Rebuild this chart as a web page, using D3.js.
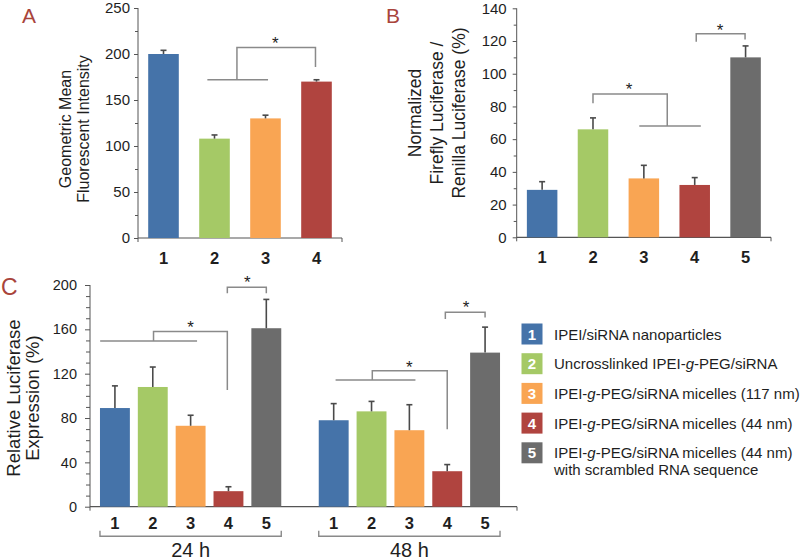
<!DOCTYPE html>
<html><head><meta charset="utf-8">
<script src="https://cdn.jsdelivr.net/npm/d3@7"></script>
<style>
body{margin:0;background:#fff}
text{font-family:"Liberation Sans",Arial,Helvetica,sans-serif;fill:#1e1e1e}
</style>
</head><body>
<svg id="c" width="800" height="559"></svg>
<script>
// ---------- data ----------
const colors = ["#4573a9", "#a5c966", "#f9a553", "#b0443f", "#6c6c6c"];
const catsA = ["1", "2", "3", "4"];
const valuesA = [200, 108, 130, 170];
const errA = [4, 4, 3.5, 2];
const ticksA = [0, 50, 100, 150, 200, 250];

const catsB = ["1", "2", "3", "4", "5"];
const valuesB = [29, 66, 36, 32, 110];
const errB = [5, 7, 8, 4.5, 7];
const ticksB = [0, 20, 40, 60, 80, 100, 120, 140];

const groupsC = ["24 h", "48 h"];
const catsC = ["1", "2", "3", "4", "5"];
const values24 = [89, 108, 73, 14, 161];
const err24 = [20, 18, 9.5, 4, 26];
const values48 = [78, 86, 69, 32, 139];
const err48 = [15, 9, 23, 6, 23];
const ticksC = [0, 40, 80, 120, 160, 200];

const legendLabels = [
  ["IPEI/siRNA nanoparticles"],
  ["Uncrosslinked IPEI-g-PEG/siRNA"],
  ["IPEI-g-PEG/siRNA micelles (117 nm)"],
  ["IPEI-g-PEG/siRNA micelles (44 nm)"],
  ["IPEI-g-PEG/siRNA micelles (44 nm)", "with scrambled RNA sequence"]
];

// ---------- helpers ----------
const svg = d3.select("#c");
const letterColor = "#a9443b";
const axisColor = "#555";
const bracketColor = "#8a8a8a";

function drawYAxis(x0, y, ticks, minorStep, tickSize, pad, fs) {
  const [d0, d1] = y.domain();
  const minor = d3.range(d0, d1 + 1e-9, minorStep).filter(v => !ticks.includes(v));
  const gm = svg.append("g").attr("transform", `translate(${x0},0)`)
    .call(d3.axisLeft(y).tickValues(minor).tickSize(tickSize - 1).tickFormat(""));
  gm.select(".domain").remove();
  gm.selectAll("line").attr("stroke", axisColor);
  const g = svg.append("g").attr("transform", `translate(${x0},0)`)
    .call(d3.axisLeft(y).tickValues(ticks).tickSize(tickSize).tickPadding(pad).tickSizeOuter(0));
  g.select(".domain").attr("stroke", axisColor)
    .attr("d", `M0,${y(d1)}V${y(d0) + 4}`);
  g.selectAll("line").attr("stroke", axisColor);
  g.selectAll("text").attr("font-size", fs).attr("fill", "#1e1e1e")
    .attr("font-family", '"Liberation Sans",Arial,sans-serif');
}

function drawXBase(x0, x1, y0) {
  svg.append("line").attr("x1", x0).attr("x2", x1).attr("y1", y0).attr("y2", y0)
    .attr("stroke", axisColor).attr("stroke-width", 1.2);
  svg.append("line").attr("x1", x1).attr("x2", x1).attr("y1", y0).attr("y2", y0 + 4)
    .attr("stroke", axisColor);
}

function drawBars(xPos, bw, y, values, errs, labelY, fs) {
  values.forEach((v, i) => {
    const x = xPos(i);
    svg.append("rect").attr("x", x).attr("y", y(v)).attr("width", bw)
      .attr("height", y(0) - y(v)).attr("fill", colors[i]);
    const cx = x + bw / 2;
    svg.append("line").attr("x1", cx).attr("x2", cx).attr("y1", y(v)).attr("y2", y(v + errs[i]))
      .attr("stroke", "#4a4a4a").attr("stroke-width", 1.6);
    svg.append("line").attr("x1", cx - 3).attr("x2", cx + 3).attr("y1", y(v + errs[i])).attr("y2", y(v + errs[i]))
      .attr("stroke", "#4a4a4a").attr("stroke-width", 1.6);
    svg.append("text").attr("x", cx).attr("y", labelY).attr("text-anchor", "middle")
      .attr("font-size", fs).attr("font-weight", "bold").text(String(i + 1));
  });
}

function bracket(xc, y, pts) {
  const line = d3.line().x(d => xc(d[0])).y(d => y(d[1]));
  svg.append("path").attr("d", line(pts)).attr("fill", "none")
    .attr("stroke", bracketColor).attr("stroke-width", 1.5);
}
function star(xc, y, i, v) {
  svg.append("text").attr("x", xc(i)).attr("y", y(v) + 9.5).attr("text-anchor", "middle")
    .attr("font-size", 17).text("*");
}

function yLabel(cx, cy, lines, fs, gap) {
  lines.forEach((t, k) => {
    const x = cx + (k - (lines.length - 1) / 2) * gap;
    svg.append("text").attr("transform", `translate(${x + fs * 0.36},${cy}) rotate(-90)`)
      .attr("text-anchor", "middle").attr("font-size", fs).text(t);
  });
}

// ---------- Panel A ----------
{
  const y = d3.scaleLinear().domain([0, 250]).range([238, 8]);
  const x = d3.scaleBand().domain(catsA).range([138, 342]).paddingInner(0.4).paddingOuter(0.2);
  drawXBase(138, 342, y(0));
  drawYAxis(138, y, ticksA, 25, 4, 4, 15);
  drawBars(i => x(catsA[i]), x.bandwidth(), y, valuesA, errA, 263.5, 16.5);
  const xc = i => x(catsA[0]) + x.bandwidth() / 2 + i * x.step();
  bracket(xc, y, [[0.86, 172], [2.05, 172]]);
  bracket(xc, y, [[1.44, 172], [1.44, 207], [2.98, 207], [2.98, 186]]);
  star(xc, y, 2.19, 216);
  yLabel(74, 129, ["Geometric Mean", "Fluorescent Intensity"], 16, 18);
  svg.append("text").attr("x", 22).attr("y", 22.5).attr("font-size", 21).style("fill", letterColor).text("A");
}

// ---------- Panel B ----------
{
  const y = d3.scaleLinear().domain([0, 140]).range([237.3, 8.3]);
  const x = d3.scaleBand().domain(catsB).range([516.7, 771]).paddingInner(0.4).paddingOuter(0.2);
  drawXBase(516.7, 771, y(0));
  drawYAxis(516.7, y, ticksB, 10, 4, 6, 15);
  drawBars(i => x(catsB[i]), x.bandwidth(), y, valuesB, errB, 263, 16.5);
  const xc = i => x(catsB[0]) + x.bandwidth() / 2 + i * x.step();
  bracket(xc, y, [[1, 82], [1, 87.6], [2.46, 87.6], [2.46, 68]]);
  bracket(xc, y, [[1.91, 68], [3.12, 68]]);
  star(xc, y, 1.71, 92.5);
  bracket(xc, y, [[3.03, 119.6], [3.03, 124.4], [3.99, 124.4], [3.99, 121]]);
  star(xc, y, 3.5, 129);
  yLabel(437, 113, ["Normalized", "Firefly Luciferase /", "Renilla Luciferase (%)"], 17.5, 22);
  svg.append("text").attr("x", 386).attr("y", 22.5).attr("font-size", 21).style("fill", letterColor).text("B");
}

// ---------- Panel C ----------
{
  const y = d3.scaleLinear().domain([0, 200]).range([506.7, 285]);
  const xo = d3.scaleBand().domain(groupsC).range([96, 504]).paddingInner(0.135);
  const xi = d3.scaleBand().domain(catsC).range([0, xo.bandwidth()]).paddingInner(0.21).paddingOuter(0.105);
  drawXBase(90, 517, y(0));
  drawYAxis(90, y, ticksC, 10, 5, 8, 14.5);
  const sets = [[values24, err24], [values48, err48]];
  groupsC.forEach((g, gi) => {
    const [vals, errs] = sets[gi];
    drawBars(i => xo(g) + xi(catsC[i]), xi.bandwidth(), y, vals, errs, 528.5, 16.5);
    const xc = i => xo(g) + xi(catsC[0]) + xi.bandwidth() / 2 + i * xi.step();
    const left = xo(g) + xi(catsC[0]);
    const right = xo(g) + xi(catsC[4]) + xi.bandwidth();
    svg.append("path").attr("d", `M${left},${y(0) + 24}V${y(0) + 29.5}H${right}V${y(0) + 24}`)
      .attr("fill", "none").attr("stroke", bracketColor).attr("stroke-width", 1.4);
    svg.append("text").attr("x", (left + right) / 2).attr("y", 556.5).attr("text-anchor", "middle")
      .attr("font-size", 20).text(g);
  });
  const xc24 = i => xo(groupsC[0]) + xi(catsC[0]) + xi.bandwidth() / 2 + i * xi.step();
  const xc48 = i => xo(groupsC[1]) + xi(catsC[0]) + xi.bandwidth() / 2 + i * xi.step();
  bracket(xc24, y, [[-0.39, 149.5], [2.17, 149.5]]);
  bracket(xc24, y, [[1.02, 149.5], [1.02, 158], [2.97, 158], [2.97, 105.3]]);
  star(xc24, y, 2, 165);
  bracket(xc24, y, [[2.97, 192.6], [2.97, 198], [4, 198], [4, 192.6]]);
  star(xc24, y, 3.5, 206);
  bracket(xc48, y, [[0.05, 114.4], [2.16, 114.4]]);
  bracket(xc48, y, [[1.02, 114.4], [1.02, 122.7], [3.0, 122.7], [3.0, 69.9]]);
  star(xc48, y, 2, 129.4);
  bracket(xc48, y, [[2.95, 169.4], [2.95, 175.5], [4, 175.5], [4, 170.6]]);
  star(xc48, y, 3.5, 183.6);
  yLabel(22.5, 398, ["Relative Luciferase", "Expression (%)"], 18.5, 19);
  svg.append("text").attr("x", 1).attr("y", 295).attr("font-size", 23).style("fill", letterColor).text("C");
}

// ---------- Legend ----------
{
  const lg = svg.append("g");
  legendLabels.forEach((lines, i) => {
    const cy = 334 + i * 29.7;
    lg.append("rect").attr("x", 521.5).attr("y", cy - 10.5).attr("width", 21).attr("height", 21).attr("fill", colors[i]);
    lg.append("text").attr("x", 532).attr("y", cy + 5.5).attr("text-anchor", "middle")
      .attr("font-size", 15).attr("font-weight", "bold").style("fill", "#fff").text(String(i + 1));
    lines.forEach((t, k) => {
      const tx = lg.append("text").attr("x", 554).attr("y", cy + 5.5 + k * 17).attr("font-size", 15);
      const idx = t.indexOf("-g-");
      if (idx >= 0) {
        tx.append("tspan").text(t.slice(0, idx + 1));
        tx.append("tspan").attr("font-style", "italic").text("g");
        tx.append("tspan").text(t.slice(idx + 2));
      } else {
        tx.text(t);
      }
    });
  });
}
</script>
</body></html>
